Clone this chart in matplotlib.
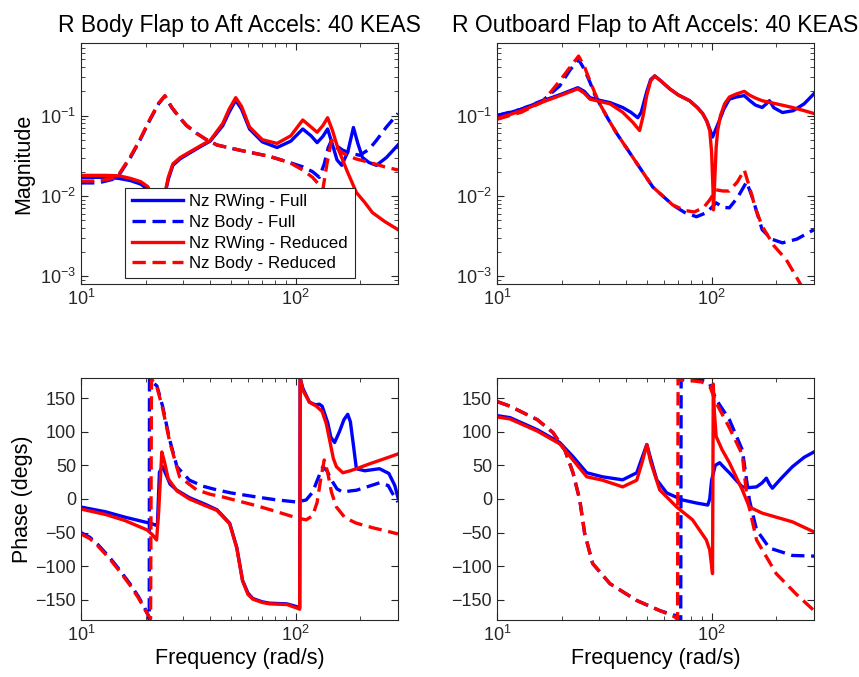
import matplotlib
matplotlib.use("Agg")
import matplotlib.pyplot as plt
from matplotlib.ticker import LogLocator, NullFormatter, FixedLocator

plt.rcParams['font.family'] = ['Liberation Sans', 'DejaVu Sans']

titles = ["R Body Flap to Aft Accels: 40 KEAS", "R Outboard Flap to Aft Accels: 40 KEAS"]
labels = ["Nz RWing - Full", "Nz Body - Full", "Nz RWing - Reduced", "Nz Body - Reduced"]

# ---------------- Top-left: magnitude (Body Flap) ----------------
tl_rwf_f = [10, 13, 15, 17, 19, 20.5, 21.5, 22.5, 23.5, 24.5, 25.5, 26.8, 29, 32, 36, 40, 45.8, 49, 52.6, 56, 61, 70, 82, 95,
            108, 118, 126, 134, 141, 148, 156, 164, 175, 186, 195, 205, 220, 238, 265, 300]
tl_rwf_m = [0.017, 0.017, 0.0165, 0.0155, 0.014, 0.012, 0.008, 0.004, 0.005, 0.010, 0.016, 0.024, 0.029, 0.034, 0.041, 0.048,
            0.075, 0.11, 0.155, 0.12, 0.068, 0.047, 0.040, 0.048, 0.068, 0.056, 0.046, 0.055, 0.068, 0.045, 0.028, 0.024,
            0.035, 0.071, 0.045, 0.030, 0.026, 0.024, 0.030, 0.043]
tl_bf_f = [10, 12, 14, 15.2, 17, 18.8, 20.9, 23, 24.6, 26.5, 28.8, 31, 34.6, 38, 43, 55, 75.7, 93.7, 108, 120, 129, 136, 142,
           147, 155, 166, 180, 199, 220, 238, 265, 300]
tl_bf_m = [0.0145, 0.0145, 0.016, 0.019, 0.030, 0.049, 0.087, 0.14, 0.175, 0.125, 0.094, 0.075, 0.060, 0.051, 0.043, 0.037,
           0.031, 0.026, 0.023, 0.020, 0.017, 0.025, 0.040, 0.049, 0.042, 0.037, 0.034, 0.032, 0.038, 0.049, 0.072, 0.106]
tl_rwr_f = [10, 13, 15, 17, 19, 20.5, 21.5, 22.5, 23.5, 24.5, 25.5, 26.8, 29, 32, 36, 40, 45.8, 49, 52.6, 56, 61, 70, 82, 95,
            108, 118, 126, 134, 141, 148.6, 157, 164, 173, 192, 210, 228, 260, 300]
tl_rwr_m = [0.018, 0.018, 0.0178, 0.0165, 0.015, 0.013, 0.009, 0.004, 0.005, 0.010, 0.017, 0.025, 0.030, 0.035, 0.042, 0.049,
            0.08, 0.12, 0.167, 0.13, 0.072, 0.050, 0.045, 0.056, 0.088, 0.072, 0.062, 0.075, 0.094, 0.065, 0.040, 0.030,
            0.021, 0.011, 0.0083, 0.0062, 0.0048, 0.0038]
tl_br_f = [10, 12, 14, 15.2, 17, 18.8, 20.9, 23, 24.6, 26.5, 28.8, 31, 34.6, 38, 43, 55, 75.7, 93.7, 108, 120, 128, 134, 140,
           147, 155, 166, 190, 228, 260, 300]
tl_br_m = [0.0153, 0.0153, 0.0165, 0.0195, 0.031, 0.050, 0.089, 0.143, 0.177, 0.127, 0.095, 0.076, 0.060, 0.051, 0.043, 0.037,
           0.031, 0.026, 0.021, 0.017, 0.014, 0.012, 0.025, 0.049, 0.040, 0.034, 0.029, 0.0255, 0.023, 0.021]

# ---------------- Top-right: magnitude (Outboard Flap) ----------------
tr_rwf_f = [10, 11.5, 13, 16.4, 20, 23.8, 25.5, 27.1, 30, 33.6, 38.5, 42, 45.3, 47, 49.9, 52, 54.3, 58, 63.8, 70, 79, 86, 90.8,
            95, 98, 101, 104, 108.8, 114, 121, 130, 142, 150, 160, 172, 180, 186, 195, 214, 240, 270, 300]
tr_rwf_m = [0.100, 0.109, 0.120, 0.153, 0.185, 0.222, 0.20, 0.167, 0.155, 0.145, 0.126, 0.110, 0.094, 0.11, 0.20, 0.28, 0.312,
            0.27, 0.215, 0.18, 0.153, 0.125, 0.106, 0.085, 0.068, 0.054, 0.065, 0.087, 0.12, 0.16, 0.170, 0.177, 0.155,
            0.135, 0.126, 0.140, 0.153, 0.125, 0.109, 0.115, 0.14, 0.187]
tr_bf_f = [10, 13, 16.4, 19.6, 21.9, 24.0, 25.6, 27.1, 28.6, 30.1, 33, 36.1, 40, 44.8, 53.2, 65.9, 75, 85, 95, 105, 113, 121,
           132, 145.5, 155, 172, 190, 214, 250, 300]
tr_bf_m = [0.100, 0.12, 0.155, 0.234, 0.37, 0.50, 0.37, 0.26, 0.18, 0.14, 0.09, 0.060, 0.040, 0.0255, 0.0129, 0.0077, 0.0062,
           0.0055, 0.0062, 0.0082, 0.0072, 0.0071, 0.0095, 0.0149, 0.0095, 0.0038, 0.0029, 0.0026, 0.0029, 0.0038]
tr_rwr_f = [10, 11.5, 13, 16.4, 20, 23.8, 25.5, 27.1, 30, 33.6, 38.5, 43, 46.2, 48, 49.9, 52, 54.3, 58, 63.8, 70, 79, 86, 90.8,
            95, 98, 100, 101.5, 102, 103, 105, 106.7, 110, 115, 121, 130, 142, 150, 160, 172, 200, 238, 270, 300]
tr_rwr_m = [0.092, 0.103, 0.115, 0.148, 0.18, 0.215, 0.19, 0.16, 0.150, 0.140, 0.110, 0.082, 0.065, 0.10, 0.18, 0.27, 0.31,
            0.27, 0.215, 0.18, 0.153, 0.125, 0.106, 0.085, 0.065, 0.035, 0.012, 0.0067, 0.012, 0.04, 0.065, 0.10, 0.14,
            0.17, 0.185, 0.20, 0.18, 0.165, 0.153, 0.14, 0.126, 0.115, 0.106]
tr_br_f = [10, 13, 16.4, 19.6, 21.9, 24.0, 25.6, 27.1, 28.6, 30.1, 33, 36.1, 40, 44.8, 53.2, 65.9, 75, 83, 92, 98, 105, 113,
           121, 132, 142, 150, 160, 172, 195, 223, 256, 300]
tr_br_m = [0.090, 0.11, 0.15, 0.27, 0.40, 0.55, 0.40, 0.27, 0.19, 0.14, 0.09, 0.060, 0.040, 0.0255, 0.0129, 0.0077, 0.0066,
           0.0063, 0.0072, 0.0089, 0.0119, 0.0115, 0.0115, 0.015, 0.021, 0.013, 0.0070, 0.0042, 0.0024, 0.0016, 0.00085,
           0.0004]

# ---------------- Bottom-left: phase (Body Flap) ----------------
bl_rwf_f = [10, 13, 16, 20.3, 21.5, 22.3, 22.7, 23.2, 24, 25, 26, 28, 32, 38, 43, 49.3, 53.2, 56.6, 60, 63.2, 70, 75.7, 91,
            101, 104.5, 105, 108, 116, 124, 129, 133, 141, 146, 152, 160, 168, 175, 180, 186, 192, 210, 246, 272, 290, 300]
bl_rwf_p = [-12, -19, -27, -35, -37, -39, -38, 40, 48, 35, 22, 13, 2, -8, -16, -36, -72, -121, -140, -148, -153, -155, -156,
            -160, -162, 180, 165, 144, 140, 141, 138, 114, 92, 84, 100, 118, 126, 115, 80, 45, 42, 45, 38, 20, 2]
bl_bf_f = [10, 11, 12, 13.6, 15, 16.9, 18.5, 19.8, 20.5, 20.8, 20.85, 21.5, 22.6, 24.0, 25.9, 28, 32, 37, 43, 50, 65.7, 80,
           101, 112, 120, 127, 134, 140, 147, 156, 166, 180, 192, 220, 246, 270, 282, 300]
bl_bf_p = [-50, -57, -68, -87, -104, -126, -145, -162, -172, -179, 179, 174, 168, 138, 88, 48, 28, 19, 13.5, 9, 3, -1, -4.5,
           -1.5, 10, 30, 48, 42, 28, 15, 10, 12, 13, 19, 24, 20, 9, -4.5]
bl_rwr_f = [10, 13, 16, 20.3, 21.5, 22.5, 23.0, 23.8, 24.5, 25.5, 28, 32, 38, 43, 49.3, 53.2, 56.6, 60, 63.2, 70, 75.7, 91,
            101, 104.5, 105, 108, 116, 125, 133, 139, 144, 150, 155, 166, 180, 192, 220, 260, 300]
bl_rwr_p = [-15, -23, -32, -46, -53, -61, -20, 70, 55, 30, 12, 0, -10, -17, -37, -73, -122, -142, -149, -154, -156, -157, -162,
            -164, 180, 162, 144, 138, 130, 112, 88, 60, 48, 39, 42, 45, 52, 60, 67]
bl_br_f = [10, 11, 12, 13.6, 15, 16.9, 18.5, 19.8, 20.5, 21.1, 21.3, 21.8, 22.6, 24.0, 25.9, 28.8, 34.6, 40, 45.8, 65.7, 80,
           101, 112, 120, 126, 131, 136, 141, 147, 155, 170, 192, 230, 260, 300]
bl_br_p = [-52, -59, -70, -89, -106, -128, -147, -164, -172, -178, 178, 174, 166, 135, 85, 33, 13.5, 7, 3, -10, -18, -28, -31,
           -25, -5, 30, 58, 40, 10, -12, -28, -36, -43, -47, -52]

# ---------------- Bottom-right: phase (Outboard Flap) ----------------
br_rwf_f = [10, 11.5, 15.4, 19.6, 22.6, 26.2, 31, 38.5, 44.8, 47.5, 49.9, 52, 55.5, 61.8, 73.3, 85, 96, 98, 100, 104, 109,
            115, 121, 130, 139, 150, 162, 172, 180, 186, 192, 210, 238, 270, 300]
br_rwf_p = [124, 121, 103, 84, 63, 39, 33, 28.5, 39, 62, 81, 60, 28.5, 9, -1.5, -6, -9, 0, 28, 50, 54, 46, 39, 28, 18, 17, 18,
            24, 31, 22, 16, 30, 48, 62, 70]
br_bf_f = [10, 11.5, 15.4, 18.2, 20.7, 22.6, 24.3, 25.6, 27.9, 33.6, 44.8, 57.3, 68.8, 71.8, 72.1, 72.5, 80, 90, 98, 105, 121,
           139, 150, 162, 186, 238, 300]
br_bf_p = [145, 138, 118, 99, 73, 39, -1.5, -51, -96, -126, -151, -166, -174, -179, 179, 178, 178, 177, 171, 148, 118, 73, -1.5,
           -46, -73, -84, -85]
br_rwr_f = [10, 11.5, 15.4, 19.6, 22.6, 26.2, 31, 38.5, 44.8, 47.5, 49.9, 52, 57.3, 68.8, 81.5, 94.5, 98, 101, 101.8, 103,
            105, 112, 121, 139, 150, 172, 238, 300]
br_rwr_p = [122, 119, 101, 82, 58, 33, 28, 18, 28, 55, 81, 55, 13.5, -12, -31, -61, -76, -111, 171, 130, 93, 73, 54, 13.5, -12,
            -21, -34, -49]
br_br_f = [10, 11.5, 15.4, 18.2, 20.7, 22.6, 24.3, 25.6, 27.9, 33.6, 44.8, 57.3, 67, 69.4, 69.8, 70.5, 80, 90, 98, 105, 121,
           139, 146, 162, 200, 247, 300]
br_br_p = [145, 138, 118, 99, 73, 39, -1.5, -51, -96, -126, -151, -166, -175, -179, 179, 177, 176, 174, 168, 143, 106, 66, 3,
           -61, -111, -141, -166]

panels = [
    [(tl_rwf_f, tl_rwf_m), (tl_bf_f, tl_bf_m), (tl_rwr_f, tl_rwr_m), (tl_br_f, tl_br_m)],
    [(tr_rwf_f, tr_rwf_m), (tr_bf_f, tr_bf_m), (tr_rwr_f, tr_rwr_m), (tr_br_f, tr_br_m)],
    [(bl_rwf_f, bl_rwf_p), (bl_bf_f, bl_bf_p), (bl_rwr_f, bl_rwr_p), (bl_br_f, bl_br_p)],
    [(br_rwf_f, br_rwf_p), (br_bf_f, br_bf_p), (br_rwr_f, br_rwr_p), (br_br_f, br_br_p)],
]
styles = [('#0000ff', '-'), ('#0000ff', '--'), ('#ff0000', '-'), ('#ff0000', '--')]

fig = plt.figure(figsize=(8.59, 6.77), dpi=100)
rects = [
    [0.0943, 0.5805, 0.369, 0.356],
    [0.5786, 0.5805, 0.369, 0.356],
    [0.0943, 0.0842, 0.369, 0.3575],
    [0.5786, 0.0842, 0.369, 0.3575],
]
axes = []
for i, r in enumerate(rects):
    ax = fig.add_axes(r)
    axes.append(ax)
    for (f, v), (c, ls), lab in zip(panels[i], styles, labels):
        ax.plot(f, v, color=c, linestyle=ls, linewidth=2.4, label=lab,
                dashes=(4.0, 2.0) if ls == '--' else (None, None))
    ax.set_xscale('log')
    ax.set_xlim(10, 300)
    ax.tick_params(which='both', direction='in', top=True, right=True, labelsize=13, colors='#262626')
    ax.tick_params(which='major', length=5)
    ax.tick_params(which='minor', length=3)
    ax.xaxis.set_minor_locator(LogLocator(base=10, subs=range(2, 10)))
    ax.xaxis.set_minor_formatter(NullFormatter())
    for sp in ax.spines.values():
        sp.set_color('#262626')
        sp.set_linewidth(0.8)
    if i < 2:
        ax.set_yscale('log')
        ax.set_ylim(8e-4, 0.8)
        ax.yaxis.set_major_locator(FixedLocator([1e-3, 1e-2, 1e-1]))
        ax.yaxis.set_minor_locator(LogLocator(base=10, subs=range(2, 10)))
        ax.yaxis.set_minor_formatter(NullFormatter())
        ax.set_title(titles[i], fontsize=16.5, pad=8)
    else:
        ax.set_ylim(-180, 180)
        ax.set_yticks([-150, -100, -50, 0, 50, 100, 150])
        ax.set_xlabel("Frequency (rad/s)", fontsize=15.5, labelpad=2)

axes[0].set_ylabel("Magnitude", fontsize=15.5)
axes[2].set_ylabel("Phase (degs)", fontsize=15.5, labelpad=2)

leg = axes[0].legend(loc='lower left', bbox_to_anchor=(0.139, 0.025), fontsize=12.2, handlelength=3.0,
                     labelspacing=0.33, borderpad=0.4, handletextpad=0.4, fancybox=False, framealpha=1,
                     edgecolor='#262626', borderaxespad=0)
leg.get_frame().set_linewidth(0.8)

fig.savefig("out.png", dpi=100)
